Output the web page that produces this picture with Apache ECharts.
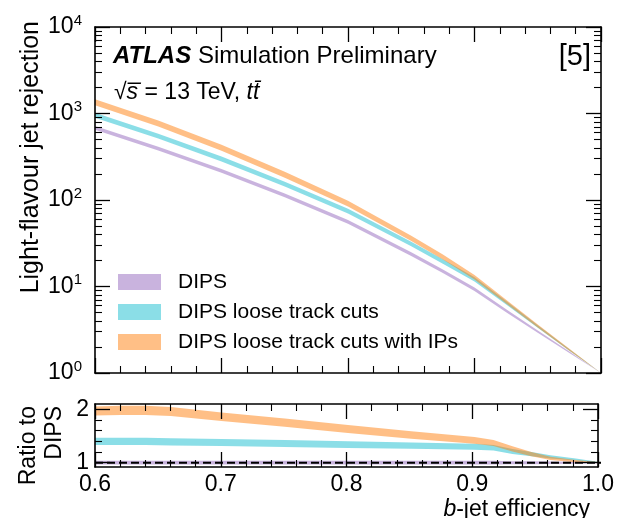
<!DOCTYPE html>
<html>
<head>
<meta charset="UTF-8">
<title>DIPS light-flavour rejection</title>
<script src="https://cdn.jsdelivr.net/npm/echarts@6.0.0/dist/echarts.min.js"></script>
<style>
  html, body { margin: 0; padding: 0; background: #fff; }
  #main, #frame { position: absolute; left: 0; top: 0; width: 617px; height: 518px; }
  #frame { pointer-events: none; }
</style>
</head>
<body>
<div id="main"></div>
<div id="frame"></div>
<script type="text/javascript">
// b-jet efficiency points for the rejection panel
var eff = [0.6, 0.65, 0.7, 0.75, 0.8, 0.85, 0.875, 0.9, 0.925, 0.95, 0.975, 1.0];
var rejDips = [684, 394, 218, 113, 56, 23.7, 15.0, 9.3, 5.25, 3.0, 1.74, 1.0];
var rejLoose = [958, 548, 299, 153, 74.5, 31, 19.5, 12.1, 6.5, 3.45, 1.85, 1.0];
var rejLooseIP = [1350, 770, 403, 197, 91, 36, 22, 12.8, 6.7, 3.5, 1.86, 1.0];
// relative statistical uncertainty (band half width)
var uncDips = [0.05, 0.05, 0.05, 0.05, 0.05, 0.05, 0.045, 0.045, 0.04, 0.03, 0.02, 0];
var uncLoose = [0.065, 0.065, 0.065, 0.065, 0.065, 0.06, 0.058, 0.055, 0.045, 0.035, 0.02, 0];
var uncLooseIP = [0.08, 0.08, 0.08, 0.08, 0.075, 0.07, 0.065, 0.06, 0.05, 0.04, 0.025, 0];

// ratio panel
var effR = [0.6, 0.62, 0.64, 0.66, 0.7, 0.75, 0.8, 0.85, 0.9, 0.915, 0.93, 0.945, 0.96, 0.98, 1.0];
var ratioDips = [1, 1, 1, 1, 1, 1, 1, 1, 1, 1, 1, 1, 1, 1, 1];
var ratioLoose = [1.40, 1.40, 1.40, 1.39, 1.38, 1.36, 1.34, 1.32, 1.30, 1.28, 1.21, 1.16, 1.11, 1.06, 1.0];
var ratioLooseIP = [1.97, 1.98, 1.98, 1.96, 1.86, 1.75, 1.63, 1.52, 1.42, 1.37, 1.26, 1.16, 1.08, 1.03, 1.0];
var uncRatioDips = [0.035, 0.035, 0.035, 0.035, 0.035, 0.035, 0.035, 0.035, 0.035, 0.035, 0.03, 0.03, 0.025, 0.02, 0.01];
var uncRatioLoose = [0.07, 0.07, 0.07, 0.068, 0.066, 0.064, 0.062, 0.06, 0.055, 0.05, 0.045, 0.04, 0.03, 0.02, 0.01];
var uncRatioLooseIP = [0.085, 0.085, 0.085, 0.085, 0.08, 0.078, 0.075, 0.07, 0.063, 0.055, 0.05, 0.04, 0.03, 0.02, 0.01];

var names = ['DIPS', 'DIPS loose track cuts', 'DIPS loose track cuts with IPs'];
var colors = ['rgba(148,103,189,0.5)', 'rgba(23,190,207,0.5)', 'rgba(255,127,14,0.5)'];

var ratioMajorTicks = [1, 2];
var ratioMinorTicks = [1.2, 1.4, 1.6, 1.8];

var font = '"Liberation Sans", Arial, Helvetica, sans-serif';

function bandSeries(name, xs, lower, upper, color, gi) {
  return {
    type: 'custom',
    name: name,
    xAxisIndex: gi * 2,
    yAxisIndex: gi * 2,
    itemStyle: { color: color },
    data: xs.map(function (x, i) { return [x, lower[i], upper[i]]; }),
    encode: { x: 0, y: [1, 2] },
    renderItem: function (params, api) {
      if (params.dataIndex !== 0) return;
      var pts = [];
      for (var i = 0; i < xs.length; i++) pts.push(api.coord([xs[i], upper[i]]));
      for (var j = xs.length - 1; j >= 0; j--) pts.push(api.coord([xs[j], lower[j]]));
      return { type: 'polygon', shape: { points: pts }, style: { fill: color } };
    }
  };
}

function relBand(v, u, sign) {
  return v.map(function (x, i) { return x * (1 + sign * u[i]); });
}
function absBand(v, u, sign) {
  return v.map(function (x, i) { return x + sign * u[i]; });
}

// ---- axes; "vis" false gives the same scales with nothing drawn ----
function frameLine(vis) {
  return { show: vis, onZero: false, lineStyle: { color: '#000', width: 1.6 } };
}
function majorTick(vis) {
  return { show: vis, inside: true, length: 15, lineStyle: { color: '#000', width: 1.3 } };
}
function minorTick(vis, n) {
  return { show: vis, splitNumber: n, length: 7, lineStyle: { color: '#000', width: 1.1 } };
}

function xAx(vis, gi, pos, labels) {
  return {
    type: 'value', gridIndex: gi, position: pos,
    min: 0.6, max: 1.0, interval: 0.1,
    axisLine: frameLine(vis),
    axisTick: majorTick(vis),
    minorTick: minorTick(vis, 5),
    splitLine: { show: false },
    axisLabel: {
      show: vis && labels, color: '#000', fontSize: 23, fontFamily: font, margin: 6,
      formatter: function (v) { return v.toFixed(1); }
    }
  };
}

function logAx(vis, pos, labels) {
  return {
    type: 'log', logBase: 10, gridIndex: 0, position: pos,
    min: 1, max: 10000,
    axisLine: frameLine(vis),
    axisTick: majorTick(vis),
    minorTick: minorTick(vis, 9),
    splitLine: { show: false },
    axisLabel: {
      show: vis && labels, color: '#000', margin: 13,
      formatter: function (v) { return '{a|10}{s|' + Math.round(Math.log10(v)) + '}'; },
      rich: {
        a: { fontSize: 23, fontFamily: font, color: '#000' },
        s: { fontSize: 15, fontFamily: font, color: '#000', padding: [0, 0, 13, 0] }
      }
    }
  };
}

function ratioAx(vis, pos, labels) {
  return {
    type: 'value', gridIndex: 1, position: pos,
    min: 0.92, max: 2.1,
    axisLine: frameLine(vis),
    axisTick: { show: vis, inside: true, length: 15, customValues: ratioMajorTicks, lineStyle: { color: '#000', width: 1.3 } },
    splitLine: { show: false },
    axisLabel: { show: vis && labels, customValues: ratioMajorTicks, color: '#000', fontSize: 23, fontFamily: font, margin: 6 }
  };
}
function ratioMinorAx(vis, pos) {
  return {
    type: 'value', gridIndex: 1, position: pos, offset: 0,
    min: 0.92, max: 2.1,
    axisLine: { show: false, onZero: false },
    axisTick: { show: vis, inside: true, length: 7, customValues: ratioMinorTicks, lineStyle: { color: '#000', width: 1.1 } },
    splitLine: { show: false },
    axisLabel: { show: false }
  };
}

var grids = [
  { left: 95, right: 16, top: 27, height: 346 },
  { left: 95, right: 16, top: 404, height: 63 }
];
function xAxes(vis) {
  return [xAx(vis, 0, 'bottom', false), xAx(vis, 0, 'top', false), xAx(vis, 1, 'bottom', true), xAx(vis, 1, 'top', false)];
}
function yAxes(vis) {
  return [logAx(vis, 'left', true), logAx(vis, 'right', false), ratioAx(vis, 'left', true), ratioAx(vis, 'right', false),
    ratioMinorAx(vis, 'left'), ratioMinorAx(vis, 'right')];
}

var series = [
  bandSeries(names[0], eff, relBand(rejDips, uncDips, -1), relBand(rejDips, uncDips, 1), colors[0], 0),
  bandSeries(names[1], eff, relBand(rejLoose, uncLoose, -1), relBand(rejLoose, uncLoose, 1), colors[1], 0),
  bandSeries(names[2], eff, relBand(rejLooseIP, uncLooseIP, -1), relBand(rejLooseIP, uncLooseIP, 1), colors[2], 0),
  bandSeries(names[0], effR, absBand(ratioDips, uncRatioDips, -1), absBand(ratioDips, uncRatioDips, 1), colors[0], 1),
  bandSeries(names[1], effR, absBand(ratioLoose, uncRatioLoose, -1), absBand(ratioLoose, uncRatioLoose, 1), colors[1], 1),
  bandSeries(names[2], effR, absBand(ratioLooseIP, uncRatioLooseIP, -1), absBand(ratioLooseIP, uncRatioLooseIP, 1), colors[2], 1),
  {
    type: 'line', xAxisIndex: 2, yAxisIndex: 2, silent: true, symbol: 'none', z: 5,
    data: [[0.6, 1], [1.0, 1]],
    lineStyle: { color: '#000', width: 2, type: [8, 4] }
  }
];

// data, legend and texts
var myChart = echarts.init(document.getElementById('main'));
myChart.setOption({
  animation: false,
  backgroundColor: '#fff',
  textStyle: { fontFamily: font },
  grid: grids,
  xAxis: xAxes(false),
  yAxis: yAxes(false),
  legend: {
    data: names,
    orient: 'vertical',
    left: 113, top: 265,
    icon: 'rect',
    itemWidth: 43, itemHeight: 16, itemGap: 6,
    selectedMode: false,
    textStyle: { fontSize: 21, fontFamily: font, color: '#000', lineHeight: 24, padding: [0, 0, 0, 12] }
  },
  graphic: [
    {
      type: 'text', x: 113, y: 56,
      style: {
        text: '{b|ATLAS} Simulation Preliminary', fill: '#000', verticalAlign: 'middle',
        font: '24px ' + font,
        rich: { b: { fontSize: 24, fontWeight: 'bold', fontStyle: 'italic', fontFamily: font } }
      }
    },
    {
      type: 'text', x: 591, y: 57,
      style: { text: '[5]', fill: '#000', align: 'right', verticalAlign: 'middle', font: '29px ' + font }
    },
    {
      type: 'text', x: 114, y: 93,
      style: {
        text: '√{i|s\u0305} = 13 TeV, {i|tt\u0304}', fill: '#000', verticalAlign: 'middle',
        font: '23px ' + font,
        rich: { i: { fontSize: 23, fontStyle: 'italic', fontFamily: font } }
      }
    },
    {
      type: 'text', x: 31, y: 21, rotation: Math.PI / 2,
      style: { text: 'Light-flavour jet rejection', fill: '#000', align: 'right', verticalAlign: 'middle', font: '25px ' + font }
    },
    {
      type: 'text', x: 29, y: 406, rotation: Math.PI / 2,
      style: { text: 'Ratio to', fill: '#000', align: 'right', verticalAlign: 'middle', font: '23px ' + font }
    },
    {
      type: 'text', x: 55, y: 406, rotation: Math.PI / 2,
      style: { text: 'DIPS', fill: '#000', align: 'right', verticalAlign: 'middle', font: '23px ' + font }
    },
    {
      type: 'text', x: 590, y: 498,
      style: {
        text: '{i|b}-jet efficiency', fill: '#000', align: 'right', verticalAlign: 'top',
        font: '23px ' + font,
        rich: { i: { fontSize: 23, fontStyle: 'italic', fontFamily: font } }
      }
    }
  ],
  series: series
});

// frame, ticks and tick labels in a transparent chart laid over the first
var frameChart = echarts.init(document.getElementById('frame'));
frameChart.setOption({
  animation: false,
  backgroundColor: 'transparent',
  textStyle: { fontFamily: font },
  grid: grids,
  xAxis: xAxes(true),
  yAxis: yAxes(true),
  series: []
});
</script>
</body>
</html>
